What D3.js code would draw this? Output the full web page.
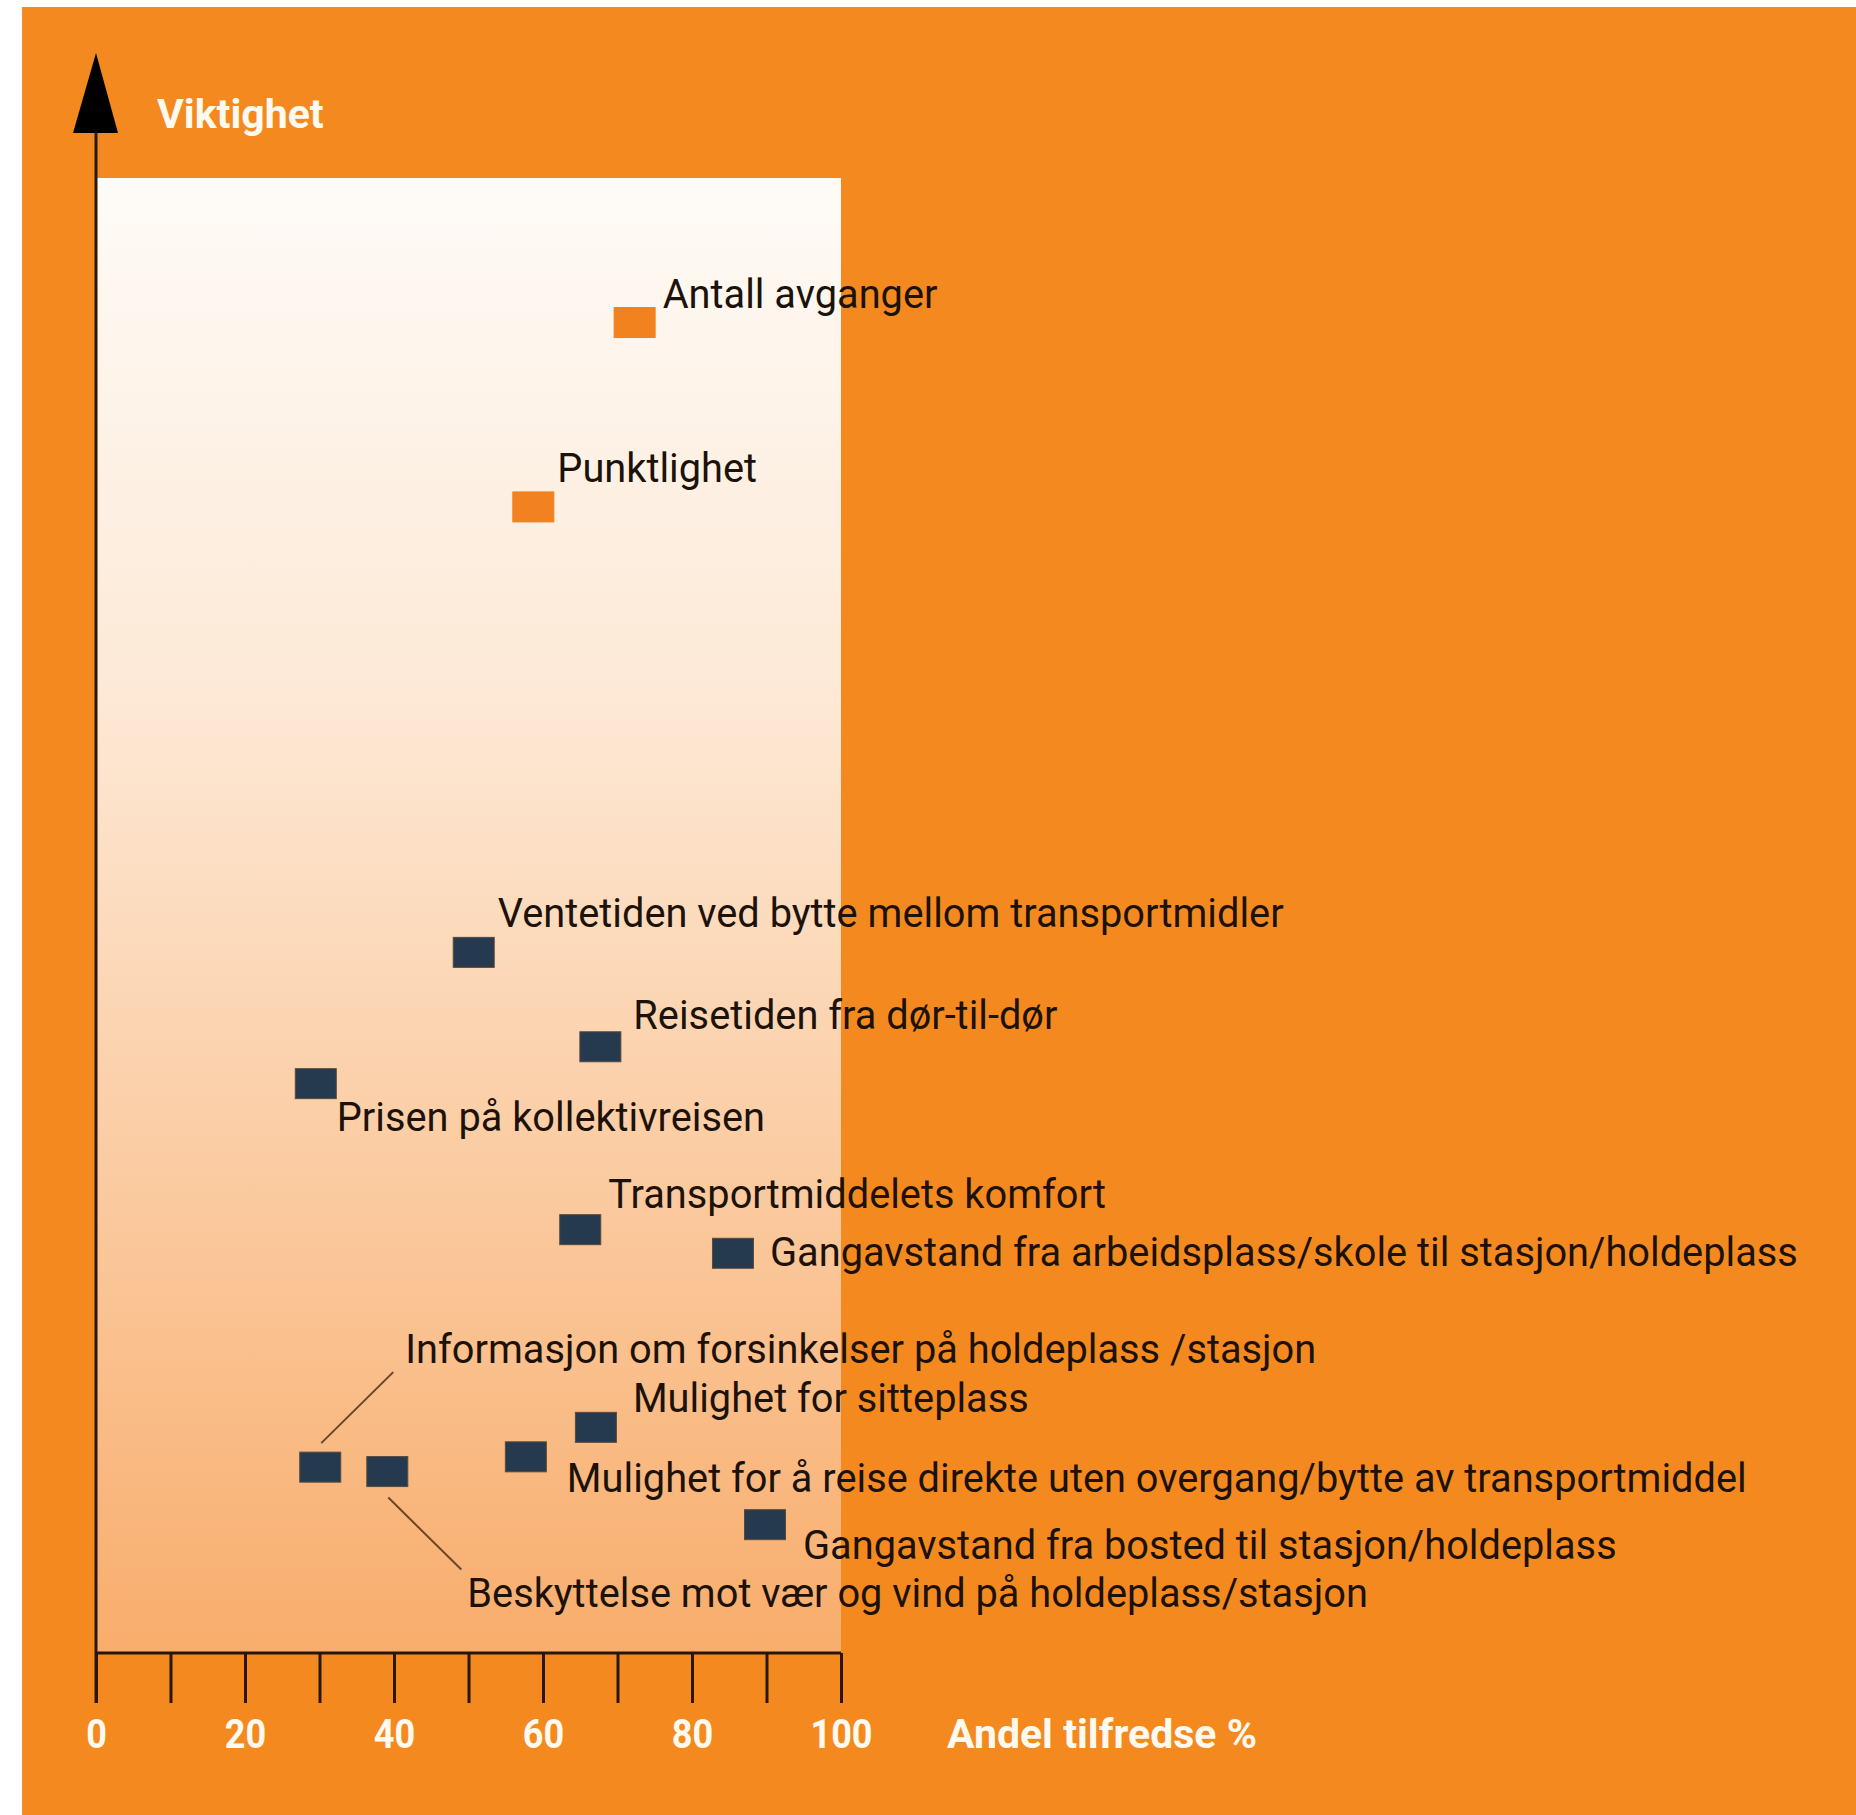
<!DOCTYPE html>
<html>
<head>
<meta charset="utf-8">
<script src="https://cdn.jsdelivr.net/npm/d3@7"></script>
<style>
  html, body { margin: 0; padding: 0; background: #ffffff; }
  svg { display: block; }
</style>
</head>
<body>
<svg id="chart" width="1856" height="1815"></svg>
<script>
// ---- data ----
const labels = [
  "Antall avganger",
  "Punktlighet",
  "Ventetiden ved bytte mellom transportmidler",
  "Reisetiden fra dør-til-dør",
  "Prisen på kollektivreisen",
  "Transportmiddelets komfort",
  "Gangavstand fra arbeidsplass/skole til stasjon/holdeplass",
  "Informasjon om forsinkelser på holdeplass /stasjon",
  "Beskyttelse mot vær og vind på holdeplass/stasjon",
  "Mulighet for å reise direkte uten overgang/bytte av transportmiddel",
  "Mulighet for sitteplass",
  "Gangavstand fra bosted til stasjon/holdeplass"
];
const satisfied = [72.3, 58.7, 50.7, 67.7, 29.5, 65.0, 85.5, 30.1, 39.1, 57.7, 67.1, 89.8];
const importance = [90.2, 77.7, 47.5, 41.1, 38.6, 28.7, 27.1, 12.6, 12.3, 13.3, 15.3, 8.7];
const highlighted = [true, true, false, false, false, false, false, false, false, false, false, false];
const xTicks = [0, 10, 20, 30, 40, 50, 60, 70, 80, 90, 100];
const xTickLabels = ["0", "", "20", "", "40", "", "60", "", "80", "", "100"];
const xTitle = "Andel tilfredse %";
const yTitle = "Viktighet";

// ---- layout (label placement relative to marker) ----
const labelOffsets = [
  [28, -15], [24, -25], [24, -25], [33, -18], [21, 47], [28, -22],
  [37, 13], [85, -104], [80, 135], [41, 35], [37, -15], [38, 34]
];
const leaders = { 7: [[1, -24], [73, -95]], 8: [[1, 26], [74, 98]] };

const svg = d3.select("#chart");
const W = 1856, H = 1815;
const plot = { left: 96, right: 841, top: 178, bottom: 1653 };

const x = d3.scaleLinear().domain([0, 100]).range([plot.left, plot.right]);
const y = d3.scaleLinear().domain([0, 100]).range([plot.bottom, plot.top]);

const defs = svg.append("defs");
const grad = defs.append("linearGradient").attr("id", "plotGrad")
  .attr("x1", 0).attr("y1", 0).attr("x2", 0).attr("y2", 1);
grad.append("stop").attr("offset", "0%").attr("stop-color", "#fefbf7");
grad.append("stop").attr("offset", "35%").attr("stop-color", "#fde9d6");
grad.append("stop").attr("offset", "100%").attr("stop-color", "#f8ad6c");

// background
svg.append("rect").attr("x", 0).attr("y", 0).attr("width", W).attr("height", H).attr("fill", "#ffffff");
svg.append("rect").attr("x", 22).attr("y", 7).attr("width", W - 22).attr("height", H - 7).attr("fill", "#f48a1f");

// plot area
svg.append("rect")
  .attr("x", x(0)).attr("y", y(100))
  .attr("width", x(100) - x(0)).attr("height", y(0) - y(100))
  .attr("fill", "url(#plotGrad)");

// x axis
const xAxis = d3.axisBottom(x).tickValues(xTicks).tickSize(50).tickPadding(16)
  .tickFormat((d, i) => xTickLabels[i]);
const gx = svg.append("g").attr("transform", `translate(0,${plot.bottom})`).call(xAxis);
gx.select(".domain").attr("stroke", "#2a1608").attr("stroke-width", 3)
  .attr("d", `M${x(0)},0H${x(100)}`);
gx.selectAll(".tick line").attr("stroke", "#2a1608").attr("stroke-width", 3);
gx.selectAll(".tick text")
  .attr("fill", "#fffaf0")
  .attr("font-family", "Roboto, 'DejaVu Sans', sans-serif")
  .attr("font-weight", "bold")
  .attr("font-size", 41)
  .attr("dy", "0.71em")
  .attr("transform", "scale(0.88,1)");

svg.append("text")
  .attr("x", 947).attr("y", 1748)
  .attr("fill", "#fffaf0")
  .attr("font-family", "Roboto, 'DejaVu Sans', sans-serif")
  .attr("font-weight", "bold").attr("font-size", 41)
  .text(xTitle);

// y axis line + arrow
svg.append("line")
  .attr("x1", x(0)).attr("x2", x(0))
  .attr("y1", 120).attr("y2", plot.bottom + 50)
  .attr("stroke", "#2a1608").attr("stroke-width", 3);
svg.append("path")
  .attr("d", d3.line()([[x(0), 53], [x(0) - 23, 133], [x(0) + 22, 133]]) + "Z")
  .attr("fill", "#000000");
svg.append("text")
  .attr("x", 157).attr("y", 128)
  .attr("fill", "#fffaf0")
  .attr("font-family", "Roboto, 'DejaVu Sans', sans-serif")
  .attr("font-weight", "bold").attr("font-size", 41)
  .text(yTitle);

// data
const pts = labels.map((l, i) => ({ label: l, sx: satisfied[i], imp: importance[i], hi: highlighted[i], i }));

// leader lines
Object.keys(leaders).forEach(k => {
  const d = pts[+k];
  const [[a, b], [c, e]] = leaders[k];
  svg.append("line")
    .attr("x1", x(d.sx) + a).attr("y1", y(d.imp) + b)
    .attr("x2", x(d.sx) + c).attr("y2", y(d.imp) + e)
    .attr("stroke", "#6b4526").attr("stroke-width", 2);
});

const mw = 41, mh = 30;
svg.append("g").selectAll("rect").data(pts).join("rect")
  .attr("x", d => x(d.sx) - mw / 2)
  .attr("y", d => y(d.imp) - mh / 2)
  .attr("width", mw).attr("height", mh)
  .attr("fill", d => d.hi ? "#f2811f" : "#263a4f")
  .attr("stroke", d => d.hi ? "#f2811f" : "#5a4a3a")
  .attr("stroke-width", 1);

const condense = 0.97;
svg.append("g").selectAll("text").data(pts).join("text")
  .attr("transform", d => `translate(${x(d.sx) + labelOffsets[d.i][0]},${y(d.imp) + labelOffsets[d.i][1]}) scale(${condense},1)`)
  .attr("fill", "#1c1209")
  .attr("font-family", "Roboto, 'DejaVu Sans', sans-serif")
  .attr("font-size", 41)
  .text(d => d.label);
</script>
</body>
</html>
